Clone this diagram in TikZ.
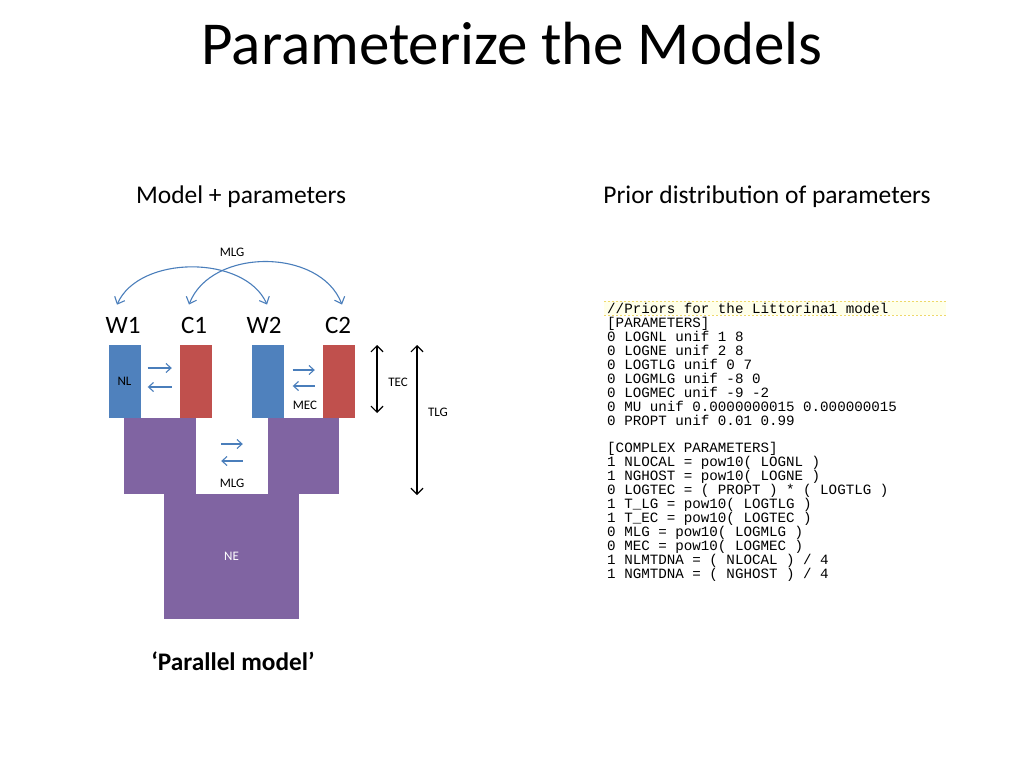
\documentclass[tikz,border=0pt]{standalone}
\usepackage{fontspec}
\setmainfont{Carlito}
\newfontfamily\codefont{Liberation Mono}
\usetikzlibrary{arrows.meta}

\definecolor{wblue}{HTML}{4F81BD}
\definecolor{cred}{HTML}{C0504D}
\definecolor{npurple}{HTML}{8064A2}
\definecolor{flowblue}{HTML}{4A7EBB}
\definecolor{hlyellow}{HTML}{FFFFEA}
\definecolor{hldash}{HTML}{EED86A}

\begin{document}
\begin{tikzpicture}[
        x=1pt, y=-1pt,
        popbox/.style={
            rectangle,
            inner sep=0pt,
            minimum width=32pt,
            minimum height=73pt
        },
        ancbox/.style={
            rectangle,
            fill=npurple,
            inner sep=0pt
        },
        tag/.style={
            font=\fontsize{13}{15}\selectfont,
            anchor=base,
            inner sep=0pt
        },
        pop/.style={
            font=\fontsize{25}{30}\selectfont,
            anchor=base,
            inner sep=0pt
        },
        head/.style={
            font=\fontsize{25.5}{31}\selectfont,
            anchor=base,
            inner sep=0pt
        },
        flow/.style={
            -{Straight Barb[length=5pt,width=9pt]},
            color=flowblue,
            line width=1.1pt
        },
        migr/.style={
            {Straight Barb[length=6pt,width=11pt]}-{Straight Barb[length=6pt,width=11pt]},
            color=flowblue,
            line width=1.1pt
        },
        span/.style={
            {Straight Barb[length=6pt,width=12pt]}-{Straight Barb[length=6pt,width=12pt]},
            color=black,
            line width=1.2pt
        },
        code/.style={
            font=\codefont\fontsize{14.2}{13.95}\selectfont,
            align=left,
            inner sep=0pt
        }
    ]
        \useasboundingbox (0,0) rectangle (1024,768);

        % headings
        \node[anchor=base, font=\fontsize{61}{73}\selectfont] (title) at (512,64) {Parameterize the Models};
        \node[head] (modelhead) at (241,203) {Model + parameters};
        \node[head] (priorhead) at (767,203) {Prior distribution of parameters};

        % ancestral populations
        \node[ancbox, minimum width=72pt, minimum height=76pt] (leftanc) at (160,456) {};
        \node[ancbox, minimum width=71pt, minimum height=76pt] (rightanc) at (303.5,456) {};
        \node[ancbox, minimum width=135pt, minimum height=125pt, text=white, font=\fontsize{13}{15}\selectfont] (ne) at (231.5,556.5) {NE};

        % local populations
        \node[popbox, fill=wblue, font=\fontsize{13}{15}\selectfont] (w1box) at (124.5,381.5) {\raisebox{-1pt}{NL}};
        \node[popbox, fill=cred] (c1box) at (196,381.5) {};
        \node[popbox, fill=wblue] (w2box) at (267.5,381.5) {};
        \node[popbox, fill=cred] (c2box) at (339,381.5) {};

        \node[pop] (w1) at (123,333) {W1};
        \node[pop] (c1) at (194,333) {C1};
        \node[pop] (w2) at (264,333) {W2};
        \node[pop] (c2) at (338,333) {C2};

        % migration
        \draw[flow] ([xshift=7pt,yshift=13.5pt]w1box.east) -- ([xshift=-8pt,yshift=13.5pt]c1box.west);
        \draw[flow] ([xshift=-8pt,yshift=-5.5pt]c1box.west) -- ([xshift=7pt,yshift=-5.5pt]w1box.east);
        \draw[flow] ([xshift=9pt,yshift=11.5pt]w2box.east) -- ([xshift=-8pt,yshift=11.5pt]c2box.west);
        \draw[flow] ([xshift=-8pt,yshift=-4.5pt]c2box.west) -- ([xshift=9pt,yshift=-4.5pt]w2box.east);
        \draw[flow] ([xshift=25pt,yshift=12pt]leftanc.east) -- ([xshift=-25pt,yshift=12pt]rightanc.west);
        \draw[flow] ([xshift=-25pt,yshift=-5pt]rightanc.west) -- ([xshift=25pt,yshift=-5pt]leftanc.east);

        \draw[migr] ([xshift=-6pt,yshift=12pt]w1.north) .. controls +(22,-50) and +(-22,-50) .. ([xshift=3pt,yshift=12pt]w2.north);
        \draw[migr] ([xshift=-5pt,yshift=12pt]c1.north) .. controls +(22,-57) and +(-22,-57) .. ([xshift=4pt,yshift=12pt]c2.north);

        \node[tag] (mlgtop) at (232,256) {MLG};
        \node[tag] (mec) at (305,409) {MEC};
        \node[tag] (mlgmid) at (232,487) {MLG};

        % divergence times
        \coordinate (tectop) at (377,345);
        \coordinate (tecbot) at (377,413);
        \coordinate (tlgtop) at (417,345);
        \coordinate (tlgbot) at (417,495);
        \draw[span] (tectop) -- (tecbot);
        \draw[span] (tlgtop) -- (tlgbot);
        \node[tag] (tec) at (398,386) {TEC};
        \node[tag] (tlg) at (438,416) {TLG};

        \node[head, font=\fontsize{25.3}{31}\selectfont\bfseries] (caption) at (233,670) {‘Parallel model’};

        % prior file
        \fill[hlyellow] (604,301) rectangle (946,315);
        \draw[hldash, line width=0.8pt, dash pattern=on 2pt off 2pt] (604,301) -- (946,301) (604,315) -- (946,315);
        \node[code, anchor=north west] (priors) at (607,303) {%
            //Priors for the Littorina1 model\\
            {}[PARAMETERS]\\
            0 LOGNL unif 1 8\\
            0 LOGNE unif 2 8\\
            0 LOGTLG unif 0 7\\
            0 LOGMLG unif -8 0\\
            0 LOGMEC unif -9 -2\\
            0 MU unif 0.0000000015 0.000000015\\
            0 PROPT unif 0.01 0.99\\
            \mbox{}\\
            {}[COMPLEX PARAMETERS]\\
            1 NLOCAL = pow10( LOGNL )\\
            1 NGHOST = pow10( LOGNE )\\
            0 LOGTEC = ( PROPT ) * ( LOGTLG )\\
            1 T\_LG = pow10( LOGTLG )\\
            1 T\_EC = pow10( LOGTEC )\\
            0 MLG = pow10( LOGMLG )\\
            0 MEC = pow10( LOGMEC )\\
            1 NLMTDNA = ( NLOCAL ) / 4\\
            1 NGMTDNA = ( NGHOST ) / 4};
    \end{tikzpicture}
\end{document}
